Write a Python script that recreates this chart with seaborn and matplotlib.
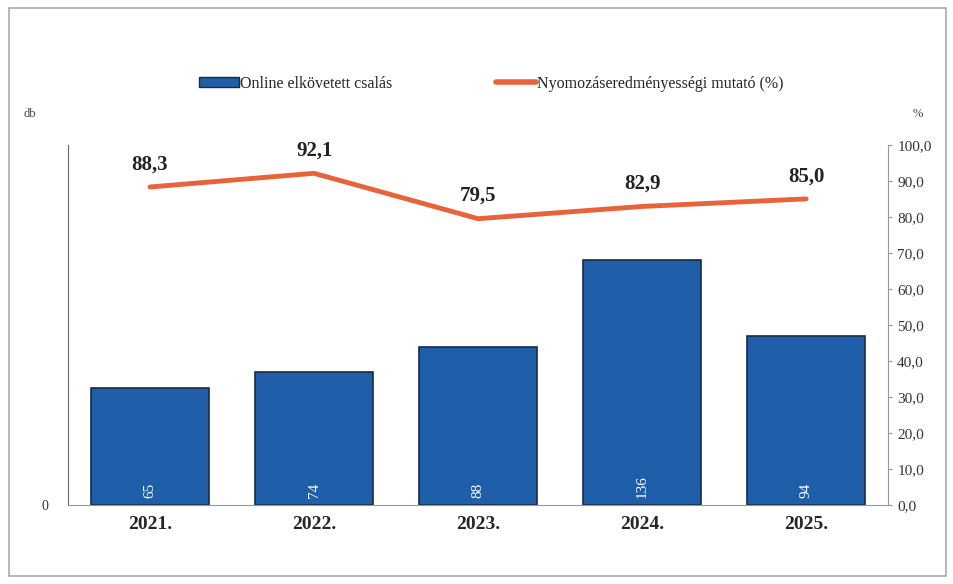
import pandas as pd
import seaborn as sns
import matplotlib.pyplot as plt
from matplotlib.patches import Rectangle, Patch
from matplotlib.lines import Line2D

years = ["2021.", "2022.", "2023.", "2024.", "2025."]
csalas = [65, 74, 88, 136, 94]
mutato = [88.3, 92.1, 79.5, 82.9, 85.0]

df = pd.DataFrame({"ev": years, "csalas": csalas, "mutato": mutato})

sns.set_style("white")
plt.rcParams["font.family"] = ["Liberation Serif", "DejaVu Serif"]

bar_color = "#1f5ea8"
line_color = "#e8633a"

fig = plt.figure(figsize=(9.54, 5.84), dpi=100)
ax = fig.add_axes([0.0713, 0.135, 0.8597, 0.617])

sns.barplot(data=df, x="ev", y="csalas", color=bar_color, width=0.72,
            edgecolor="#1a2a44", linewidth=1.2, saturation=1, ax=ax)
ax.set_xlim(-0.5, 4.5)
ax.set_ylim(0, 200)
ax.set_yticks([0])
ax.set_yticklabels(["0"], fontsize=10, color="#333333")
ax.set_xlabel("")
ax.set_ylabel("")
for lbl in ax.get_xticklabels():
    lbl.set_fontweight("bold")
    lbl.set_fontsize(14)
ax.tick_params(axis="x", length=0, pad=8)
ax.tick_params(axis="y", length=0, pad=14)

for p, v in zip(ax.patches, csalas):
    x = p.get_x() + p.get_width() / 2
    ax.text(x, 4, str(v), rotation=90, ha="center", va="bottom",
            color="white", fontsize=11)

for s in ["top", "right"]:
    ax.spines[s].set_visible(False)
ax.spines["left"].set_color("#666666")
ax.spines["bottom"].set_color("#999999")

ax2 = ax.twinx()
sns.lineplot(x=list(range(len(years))), y=mutato, color=line_color,
             linewidth=3.5, ax=ax2)
ax2.set_ylim(0, 100)
ax2.set_yticks(range(0, 101, 10))
ax2.set_yticklabels([f"{t:.1f}".replace(".", ",") for t in range(0, 101, 10)],
                    fontsize=11, color="#333333")
ax2.tick_params(axis="y", length=3, color="#999999", direction="out")
for s in ["top", "left", "bottom"]:
    ax2.spines[s].set_visible(False)
ax2.spines["right"].set_color("#999999")

for i, v in enumerate(mutato):
    ax2.text(i, v + 3.5, f"{v:.1f}".replace(".", ","), ha="center",
             va="bottom", fontsize=15, fontweight="bold", color="#222222")

fig.text(0.031, 0.80, "db", fontsize=9, color="#444444", ha="center")
fig.text(0.962, 0.80, "%", fontsize=9, color="#444444", ha="center")

handles = [Patch(facecolor=bar_color, edgecolor="#1a2a44"),
           Line2D([0], [0], color=line_color, linewidth=4)]
fig.legend(handles, ["Online elkövetett csalás", "Nyomozáseredményességi mutató (%)"],
           loc="center", bbox_to_anchor=(0.515, 0.857), ncol=2, frameon=False,
           fontsize=11.5, handlelength=2.5, handleheight=0.6,
           handletextpad=0.05, columnspacing=6.5)

fig.patches.append(Rectangle((0.009, 0.014), 0.983, 0.973, transform=fig.transFigure,
                             fill=False, edgecolor="#aaaaaa", linewidth=1.2))

fig.savefig("out.png", dpi=100)
